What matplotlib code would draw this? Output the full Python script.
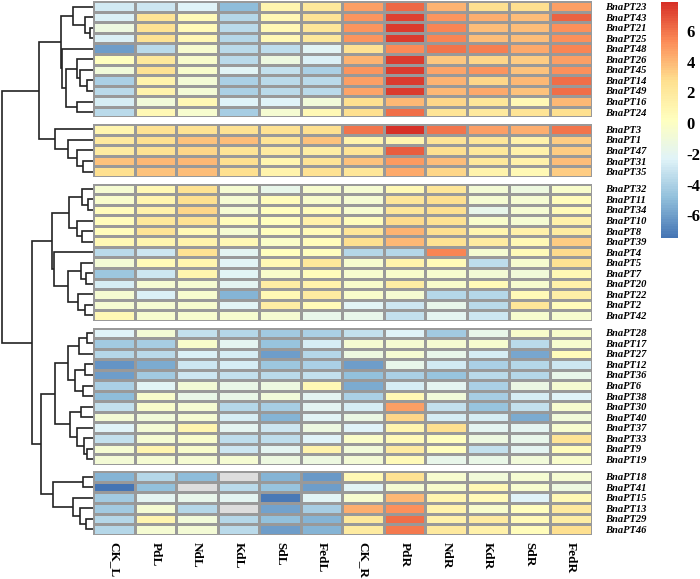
import numpy as np
import matplotlib
matplotlib.use("Agg")
import matplotlib.pyplot as plt
from matplotlib.colors import LinearSegmentedColormap, Normalize
from matplotlib.cm import ScalarMappable

plt.rcParams["axes.unicode_minus"] = False

conditions = ["CK_L", "PdL", "NdL", "KdL", "SdL", "FedL",
              "CK_R", "PdR", "NdR", "KdR", "SdR", "FedR"]

genes_g1 = ["BnaPT23", "BnaPT43", "BnaPT21", "BnaPT25", "BnaPT48", "BnaPT26",
            "BnaPT45", "BnaPT14", "BnaPT49", "BnaPT16", "BnaPT24"]
values_g1 = [
    [-2.8, -3.0, -2.3, -4.9, 1.0, 2.2, 4.8, 6.3, 4.2, 2.8, 2.8, 4.8],
    [-2.5, 2.5, 0.6, -3.8, 0.8, 2.5, 5.0, 7.3, 5.0, 4.3, 3.8, 6.5],
    [-1.3, 2.6, 0.6, -3.6, 0.8, 2.3, 5.0, 7.5, 5.5, 3.8, 3.8, 5.2],
    [-2.5, 2.6, 0.7, -3.8, 0.8, 2.2, 5.0, 7.5, 5.5, 3.8, 3.8, 5.2],
    [-6.0, -3.5, -0.5, -3.6, -3.4, -2.2, 2.6, 5.3, 5.9, 5.6, 4.5, 5.5],
    [0.3, 2.2, -0.3, -3.5, -1.2, -2.5, 4.2, 7.5, 3.5, 3.0, 3.3, 4.8],
    [-1.0, 2.6, -0.3, -2.2, -3.3, -4.0, 5.0, 7.5, 4.6, 5.0, 3.6, 5.2],
    [-4.0, 1.2, -0.8, -4.0, -3.6, -3.5, 4.7, 7.5, 4.2, 3.0, 4.0, 6.2],
    [-3.6, 1.2, -0.8, -4.0, -3.6, -3.5, 4.6, 7.5, 4.0, 4.4, 3.7, 6.2],
    [-2.6, -1.0, 0.8, -2.4, -2.4, -0.9, 2.7, 3.9, 3.0, 2.3, 0.8, 4.0],
    [-3.6, 0.8, -0.5, -4.2, -0.6, 0.8, 2.8, 6.2, 2.4, 2.0, 2.5, 2.8],
]

genes_g2 = ["BnaPT3", "BnaPT1", "BnaPT47", "BnaPT31", "BnaPT35"]
values_g2 = [
    [1.0, 2.6, 2.6, 2.6, 2.6, 2.8, 6.0, 7.9, 5.9, 4.8, 4.3, 6.0],
    [2.0, 2.8, 3.6, 3.8, 2.5, 3.7, 1.2, 1.0, 2.4, 2.3, 1.3, 3.4],
    [1.8, 2.6, 3.0, 2.5, 1.8, 1.6, 2.5, 6.6, 2.7, 2.2, 1.3, 3.4],
    [3.6, 4.0, 4.0, 2.8, 1.0, 2.5, 3.7, 4.9, 3.8, 2.2, 1.4, 3.8],
    [2.8, 3.7, 3.8, 2.8, 1.2, 2.6, 2.3, 4.5, 3.0, 1.2, 0.8, 3.3],
]

genes_g3 = ["BnaPT32", "BnaPT11", "BnaPT34", "BnaPT10", "BnaPT8", "BnaPT39",
            "BnaPT4", "BnaPT5", "BnaPT7", "BnaPT20", "BnaPT22", "BnaPT2", "BnaPT42"]
values_g3 = [
    [-0.6, 0.8, 2.6, -0.6, -1.8, -0.5, -0.6, 0.8, 2.3, -0.8, -1.2, -0.3],
    [-0.3, 1.0, 2.8, -0.6, 0.5, -0.3, -0.6, 2.3, 2.7, -0.6, -0.6, 0.5],
    [0.4, 1.3, 3.0, -0.7, 0.3, 0.4, -0.5, 2.3, 2.8, -1.8, -0.7, 0.6],
    [0.5, 2.2, 2.6, 0.4, 0.3, 1.4, 0.5, 2.9, 2.6, -0.3, -0.6, 1.3],
    [0.5, 2.5, 0.8, -0.6, 0.2, 0.6, 2.3, 4.2, 2.8, 1.0, 1.4, 1.8],
    [0.8, 1.0, 1.2, 0.8, -0.2, 0.5, 2.8, 3.9, 2.6, 1.8, 0.8, 3.3],
    [-3.6, -3.0, 2.6, -2.0, 0.2, 0.3, -3.8, -3.8, 5.5, -0.6, 0.6, 2.9],
    [-0.8, 0.6, 1.0, -2.2, 0.8, 2.2, -0.5, 1.2, 0.6, -3.4, -0.5, 2.6],
    [-4.5, -3.0, 1.0, -2.2, -0.4, 0.5, -0.5, -0.3, -0.5, -0.8, -1.0, 0.8],
    [-2.6, -0.7, -0.7, -2.0, 1.7, 1.2, -0.3, 1.6, -0.3, 0.6, -0.5, 1.3],
    [-0.6, -2.5, -0.5, -5.2, 0.7, 1.8, -0.3, -0.6, -3.8, -3.8, 0.6, 1.5],
    [-0.7, -0.7, -0.5, -2.2, 1.7, 0.6, -2.2, -3.0, -1.8, -3.6, 2.3, 0.5],
    [0.8, -0.5, -0.5, -0.5, -0.6, -1.8, -1.8, -3.3, -2.0, -3.0, -0.5, -0.5],
]

genes_g4 = ["BnaPT28", "BnaPT17", "BnaPT27", "BnaPT12", "BnaPT36", "BnaPT6",
            "BnaPT38", "BnaPT30", "BnaPT40", "BnaPT37", "BnaPT33", "BnaPT9", "BnaPT19"]
values_g4 = [
    [-2.4, -0.8, -3.2, -3.8, -4.3, -4.0, -3.3, -2.4, -4.3, -1.8, -0.3, -0.3],
    [-4.3, -4.2, -0.4, -2.0, -4.6, -2.6, -0.6, -0.6, -0.6, -0.5, -3.5, -0.5],
    [-3.8, -3.6, -2.5, -2.7, -6.0, -3.8, -1.3, -0.6, -1.8, -2.6, -5.8, 0.4],
    [-6.3, -5.6, -3.0, -2.6, -4.5, -4.0, -6.0, -1.8, -2.8, -4.0, -3.8, -3.0],
    [-6.0, -4.4, -3.0, -3.2, -3.6, -3.2, -4.8, -4.0, -4.6, -3.5, -3.8, -1.8],
    [-4.0, -2.2, -0.8, -1.6, -1.2, 0.8, -5.6, -2.6, -2.0, -4.0, -1.4, -0.6],
    [-5.0, -0.3, -1.5, -1.5, -1.0, -2.0, -4.0, 0.7, -1.0, -4.2, -2.6, -2.3],
    [-3.2, -0.3, -0.6, -3.8, -4.2, -2.0, -2.6, 4.8, -3.2, -4.6, -3.2, -0.5],
    [-0.8, -1.0, -0.6, -2.6, -5.2, -2.2, -1.4, 3.0, -2.6, -2.6, -5.5, -1.0],
    [-2.4, -0.8, 1.0, -2.0, -3.0, -1.2, -2.4, 1.0, 2.8, -2.0, -2.0, -0.5],
    [-3.2, -0.6, -0.3, -3.4, -3.4, -2.4, -0.2, 0.6, 0.3, -1.2, -1.8, 2.5],
    [-0.6, 1.0, -0.3, -3.0, -2.0, 1.2, -1.0, 1.8, 0.3, -3.2, -2.0, 0.4],
    [-0.8, -0.6, -0.6, -0.6, -1.2, -1.3, -0.8, 0.6, -1.8, -1.6, -1.0, -0.3],
]

genes_g5 = ["BnaPT18", "BnaPT41", "BnaPT15", "BnaPT13", "BnaPT29", "BnaPT46"]
values_g5 = [
    [-5.2, -3.8, -4.9, np.nan, -5.3, -6.2, 0.8, 2.6, -0.5, -1.0, -0.6, -0.6],
    [-7.5, -4.8, np.nan, -3.6, -4.7, -6.0, -2.2, -0.6, -0.4, 0.8, -0.5, -1.3],
    [-4.3, -2.0, -1.8, -2.1, -7.3, -2.2, -0.5, 3.9, 1.0, 0.6, -2.3, 0.8],
    [-4.3, -0.6, -3.8, np.nan, -5.9, -4.2, 4.3, 5.2, 1.2, -0.4, 0.3, 2.0],
    [-3.8, 1.0, -1.0, -3.8, -4.8, -5.2, 2.2, 6.2, 1.3, 1.8, 0.6, 1.7],
    [-3.8, -0.6, -0.8, -3.6, -6.0, -5.2, 1.8, 5.8, 2.0, 1.3, 0.5, 2.8],
]

# row dendrogram: (merge height, left, right); heights read as pixel distance from the leaves
tree_g1 = (31.7,
           (20.0, "BnaPT23", (7.7, "BnaPT43", (2.7, "BnaPT21", "BnaPT25"))),
           (30.4, "BnaPT48",
            (27.0,
             (15.4, "BnaPT26", (12.7, "BnaPT45", (5.4, "BnaPT14", "BnaPT49"))),
             (15.4, "BnaPT16", "BnaPT24"))))
tree_g2 = (37.7, "BnaPT3",
           (24.7, "BnaPT1", (15.4, "BnaPT47", (10.0, "BnaPT31", "BnaPT35"))))
tree_g3 = (41.0,
           (23.7,
            (11.0, "BnaPT32", (4.7, "BnaPT11", "BnaPT34")),
            (15.4, "BnaPT10", (11.0, "BnaPT8", "BnaPT39"))),
           (39.0, "BnaPT4",
            (24.5,
             (12.0, "BnaPT5", (7.0, "BnaPT7", "BnaPT20")),
             (15.0, "BnaPT22", (8.0, "BnaPT2", "BnaPT42")))))
tree_g4 = (37.5,
           (25.0,
            (14.0, (6.0, "BnaPT28", "BnaPT17"), "BnaPT27"),
            (18.0, (8.0, "BnaPT12", "BnaPT36"), (10.0, "BnaPT6", "BnaPT38"))),
           (23.0,
            (12.0, "BnaPT30", "BnaPT40"),
            (16.0, "BnaPT37", (9.0, "BnaPT33", (6.0, "BnaPT9", "BnaPT19")))))
tree_g5 = (39.5,
           (10.0, "BnaPT18", "BnaPT41"),
           (20.0, "BnaPT15", (13.0, "BnaPT13", (7.0, "BnaPT29", "BnaPT46"))))
tree_root = (90.7,
             (53.7, tree_g1, tree_g2),
             (61.0, tree_g3, (52.0, tree_g4, tree_g5)))

groups = [(genes_g1, values_g1), (genes_g2, values_g2), (genes_g3, values_g3),
          (genes_g4, values_g4), (genes_g5, values_g5)]

W, H = 700, 579
ROW_H = 10.55
GAP = 6.75
TOP = 1.3
HM_LEFT, HM_RIGHT = 93.0, 591.7
DEND_W = 92.7

palette = ["#4575B4", "#91BFDB", "#E0F3F8", "#FFFFBF", "#FEE090", "#FC8D59", "#D73027"]
cmap = LinearSegmentedColormap.from_list("pheat", palette, N=100)
cmap.set_bad("#DDDDDD")

all_vals = np.vstack([np.array(v, dtype=float) for _, v in groups])
norm = Normalize(vmin=np.nanmin(all_vals), vmax=np.nanmax(all_vals))

serif = "Liberation Serif"

fig = plt.figure(figsize=(W / 100, H / 100), dpi=100)

leaf_y = {}
top = TOP
last_ax = None
for genes, vals in groups:
    n = len(genes)
    h = n * ROW_H
    ax = fig.add_axes([HM_LEFT / W, 1 - (top + h) / H, (HM_RIGHT - HM_LEFT) / W, h / H])
    data = np.ma.masked_invalid(np.array(vals, dtype=float))
    ax.pcolormesh(data, cmap=cmap, norm=norm, edgecolors="#999999", linewidth=0.75)
    ax.set_xlim(0, len(conditions))
    ax.set_ylim(n, 0)
    ax.set_yticks(np.arange(n) + 0.5)
    ax.set_yticklabels(genes, fontfamily=serif, fontweight="bold", fontstyle="italic",
                       fontsize=7.6)
    ax.yaxis.tick_right()
    ax.tick_params(axis="y", length=0, pad=10)
    ax.set_xticks([])
    for s in ax.spines.values():
        s.set_visible(False)
    for i, g in enumerate(genes):
        leaf_y[g] = top + (i + 0.5) * ROW_H
    top += h + GAP
    last_ax = ax

last_ax.set_xticks(np.arange(len(conditions)) + 0.5)
last_ax.set_xticklabels(conditions, rotation=270, fontfamily=serif, fontweight="bold",
                        fontsize=9.5, va="top", ha="center")
last_ax.tick_params(axis="x", length=0, pad=5)

# dendrogram
dax = fig.add_axes([0, 1 - (top - GAP) / H, DEND_W / W, (top - GAP - TOP) / H])
dax.set_xlim(DEND_W, 0)
dax.set_ylim(top - GAP, TOP)
dax.axis("off")


def draw(node):
    if isinstance(node, str):
        return leaf_y[node], 0.0
    height, left, right = node
    y1, h1 = draw(left)
    y2, h2 = draw(right)
    dax.plot([h1, height, height, h2], [y1, y1, y2, y2], color="#222222", lw=1.2,
             solid_capstyle="butt", solid_joinstyle="miter")
    return (y1 + y2) / 2, height


ry, rh = draw(tree_root)

# colour legend
cax = fig.add_axes([660.7 / W, 1 - 238.3 / H, 17.6 / W, 236.6 / H])
cb = fig.colorbar(ScalarMappable(norm=norm, cmap=cmap), cax=cax, ticks=[-6, -4, -2, 0, 2, 4, 6])
cb.outline.set_visible(False)
cax.tick_params(length=0, pad=6)
for t in cax.get_yticklabels():
    t.set_fontfamily(serif)
    t.set_fontweight("bold")
    t.set_fontsize(12)

fig.savefig("out.png", dpi=100)
